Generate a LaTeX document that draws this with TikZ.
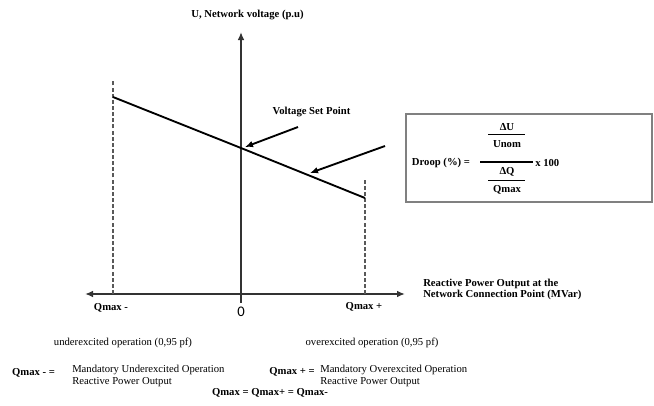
\documentclass[tikz,border=0pt]{standalone}
\usepackage{fontspec}
\setmainfont{Liberation Serif}
\newfontfamily\zerofont{Carlito}
\usepackage{tikz}
\usetikzlibrary{arrows.meta}

\begin{document}
\begin{tikzpicture}[x=0.75pt, y=-0.75pt,
    every node/.style={font=\fontsize{8}{8.6}\selectfont, inner sep=0pt},
    boldlbl/.style={font=\fontsize{8}{8.6}\selectfont\bfseries},
    axis/.style={draw=black!80, line width=1.3pt},
    tip/.style={-{Latex[length=6pt,width=5pt]}},
    limit/.style={draw=black!65, line width=1.4pt, dash pattern=on 3pt off 1.6pt}]
    \useasboundingbox (0,0) rectangle (654,405);
    % axes
    \coordinate (ybot) at (241,303);
    \coordinate (ytop) at (241,32);
    \coordinate (xl) at (85,294);
    \coordinate (xr) at (405,294);
    \draw[axis, tip] (ybot) -- (ytop);
    \draw[axis, {Latex[length=6pt,width=5pt]}-{Latex[length=6pt,width=5pt]}] (xl) -- (xr);
    \node[boldlbl] (ulabel) at (247.5,15) {U, Network voltage (p.u)};
    \node[boldlbl, anchor=west, align=left] (qlabel) at (423,289.5)
        {Reactive Power Output at the\\Network Connection Point (MVar)};
    % Q limits
    \coordinate (qneg) at (113,294);
    \coordinate (qnegtop) at (113,80);
    \coordinate (qpos) at (365,294);
    \coordinate (qpostop) at (365,178);
    \draw[limit] (qneg) -- (qnegtop);
    \draw[limit] (qpos) -- (qpostop);
    \node[boldlbl] (qminus) at (111,308) {Qmax -};
    \node[boldlbl] (qplus) at (364,307) {Qmax +};
    \node[font=\zerofont\fontsize{11}{11}\selectfont] (zero) at (241,312) {0};
    % droop line
    \coordinate (uneg) at (113,97);
    \coordinate (uset) at (241,148);
    \coordinate (upos) at (365,198);
    \coordinate (uslope) at (310,173);
    \draw[black, line width=1.4pt] (uneg) -- (uset) -- (upos);
    \node[boldlbl] (setlabel) at (311.5,112) {Voltage Set Point};
    \coordinate (settail) at (298,127);
    \coordinate (slopetail) at (385,146);
    \draw[black, line width=1.4pt, tip] (settail) -- (245,147);
    \draw[black, line width=1.4pt, tip] (slopetail) -- (uslope);
    % droop formula
    \draw[draw=black!50, line width=1pt] (406,114) rectangle (652,202);
    \node[boldlbl] (droop) at (441,163) {Droop (\%) =};
    \node[boldlbl] (du) at (507,127) {ΔU};
    \node[boldlbl] (unom) at (507,144) {Unom};
    \node[boldlbl] (dq) at (507,172) {ΔQ};
    \node[boldlbl] (qmax) at (507,190) {Qmax};
    \draw[line width=0.6pt] (488,134) -- (525,134);
    \draw[line width=0.6pt] (488,180) -- (525,180);
    \draw[line width=1.3pt] (480,162) -- (533,162);
    \node[boldlbl, anchor=west] (times) at (535,163) {x 100};
    % notes
    \node (under) at (123,343) {underexcited operation (0,95 pf)};
    \node (over) at (372,343) {overexcited operation (0,95 pf)};
    \node[boldlbl] (qnegdef) at (33.5,373) {Qmax - =};
    \node[anchor=west, align=left] (undertext) at (72,376)
        {Mandatory Underexcited Operation\\Reactive Power Output};
    \node[boldlbl] (qposdef) at (292,372) {Qmax + =};
    \node[anchor=west, align=left] (overtext) at (320,376)
        {Mandatory Overexcited Operation\\Reactive Power Output};
    \node[boldlbl] (qall) at (270,393) {Qmax = Qmax+ = Qmax-};
\end{tikzpicture}
\end{document}
